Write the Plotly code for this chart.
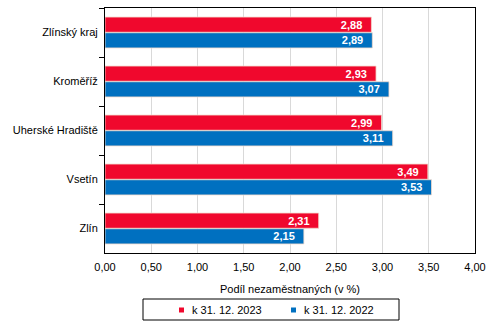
import plotly.graph_objects as go

categories = ["Zlínský kraj", "Kroměříž", "Uherské Hradiště", "Vsetín", "Zlín"]
values_2023 = [2.88, 2.93, 2.99, 3.49, 2.31]
values_2022 = [2.89, 3.07, 3.11, 3.53, 2.15]
series_names = ["k 31. 12. 2023", "k 31. 12. 2022"]
colors = ["#F0082D", "#0070C0"]
x_ticks = [0, 0.5, 1, 1.5, 2, 2.5, 3, 3.5, 4]

FONT = "Liberation Sans, Arial, sans-serif"
W, H = 502, 322
ML, MR, MT, MB = 105, 27, 8, 69
PW, PH = W - ML - MR, H - MT - MB


def px_x(p):
    return (p - ML) / PW


def px_y(p):
    return (H - MB - p) / PH


fig = go.Figure()
for name, vals, col in zip(series_names, [values_2023, values_2022], colors):
    fig.add_trace(go.Bar(
        y=categories, x=vals, orientation="h", name=name,
        marker=dict(color=col, line=dict(color="#F3D9CC", width=0.8)),
        texttemplate="%{x:.2f}\u00a0\u00a0", textposition="inside", insidetextanchor="end",
        textfont=dict(color="white", size=11, family=FONT, weight="bold"),
        showlegend=False, cliponaxis=False,
    ))

# legend box (drawn manually to match the reference layout)
shapes = [dict(type="rect", xref="paper", yref="paper",
               x0=px_x(143), x1=px_x(399), y0=px_y(320), y1=px_y(299),
               line=dict(color="black", width=1), fillcolor="rgba(0,0,0,0)")]
annotations = []
legend_items = [(179, 190), (291, 302)]
for (mx, tx), name, col in zip(legend_items, series_names, colors):
    shapes.append(dict(type="rect", xref="paper", yref="paper",
                       x0=px_x(mx), x1=px_x(mx + 5), y0=px_y(312.5), y1=px_y(307.5),
                       line=dict(width=0), fillcolor=col))
    annotations.append(dict(xref="paper", yref="paper", x=px_x(tx), y=px_y(310),
                            xanchor="left", yanchor="middle", showarrow=False,
                            text=name, font=dict(size=11, family=FONT, color="black")))

fig.update_layout(
    width=W, height=H,
    margin=dict(l=ML, r=MR, t=MT, b=MB),
    paper_bgcolor="white", plot_bgcolor="white",
    barmode="group", bargap=0.36, bargroupgap=0.03,
    separators=", ",
    font=dict(family=FONT, size=11, color="black"),
    uniformtext=dict(minsize=11, mode="show"),
    showlegend=False,
    shapes=shapes, annotations=annotations,
    xaxis=dict(
        range=[0, 4], tickvals=x_ticks, tickformat=".2f",
        showgrid=True, gridcolor="#D9D9D9", gridwidth=1,
        showline=True, linecolor="black", linewidth=1, mirror=True,
        ticks="", zeroline=False, ticklabelstandoff=4,
        title=dict(text="Podíl nezaměstnaných (v %)", standoff=13, font=dict(size=11)),
        fixedrange=True,
    ),
    yaxis=dict(
        categoryorder="array", categoryarray=categories, autorange="reversed",
        showline=True, linecolor="black", linewidth=1, mirror=True,
        ticks="outside", ticklen=5, tickcolor="black", tickson="boundaries",
        showgrid=False, ticklabelstandoff=4,
    ),
)

fig.write_html("out.html")
